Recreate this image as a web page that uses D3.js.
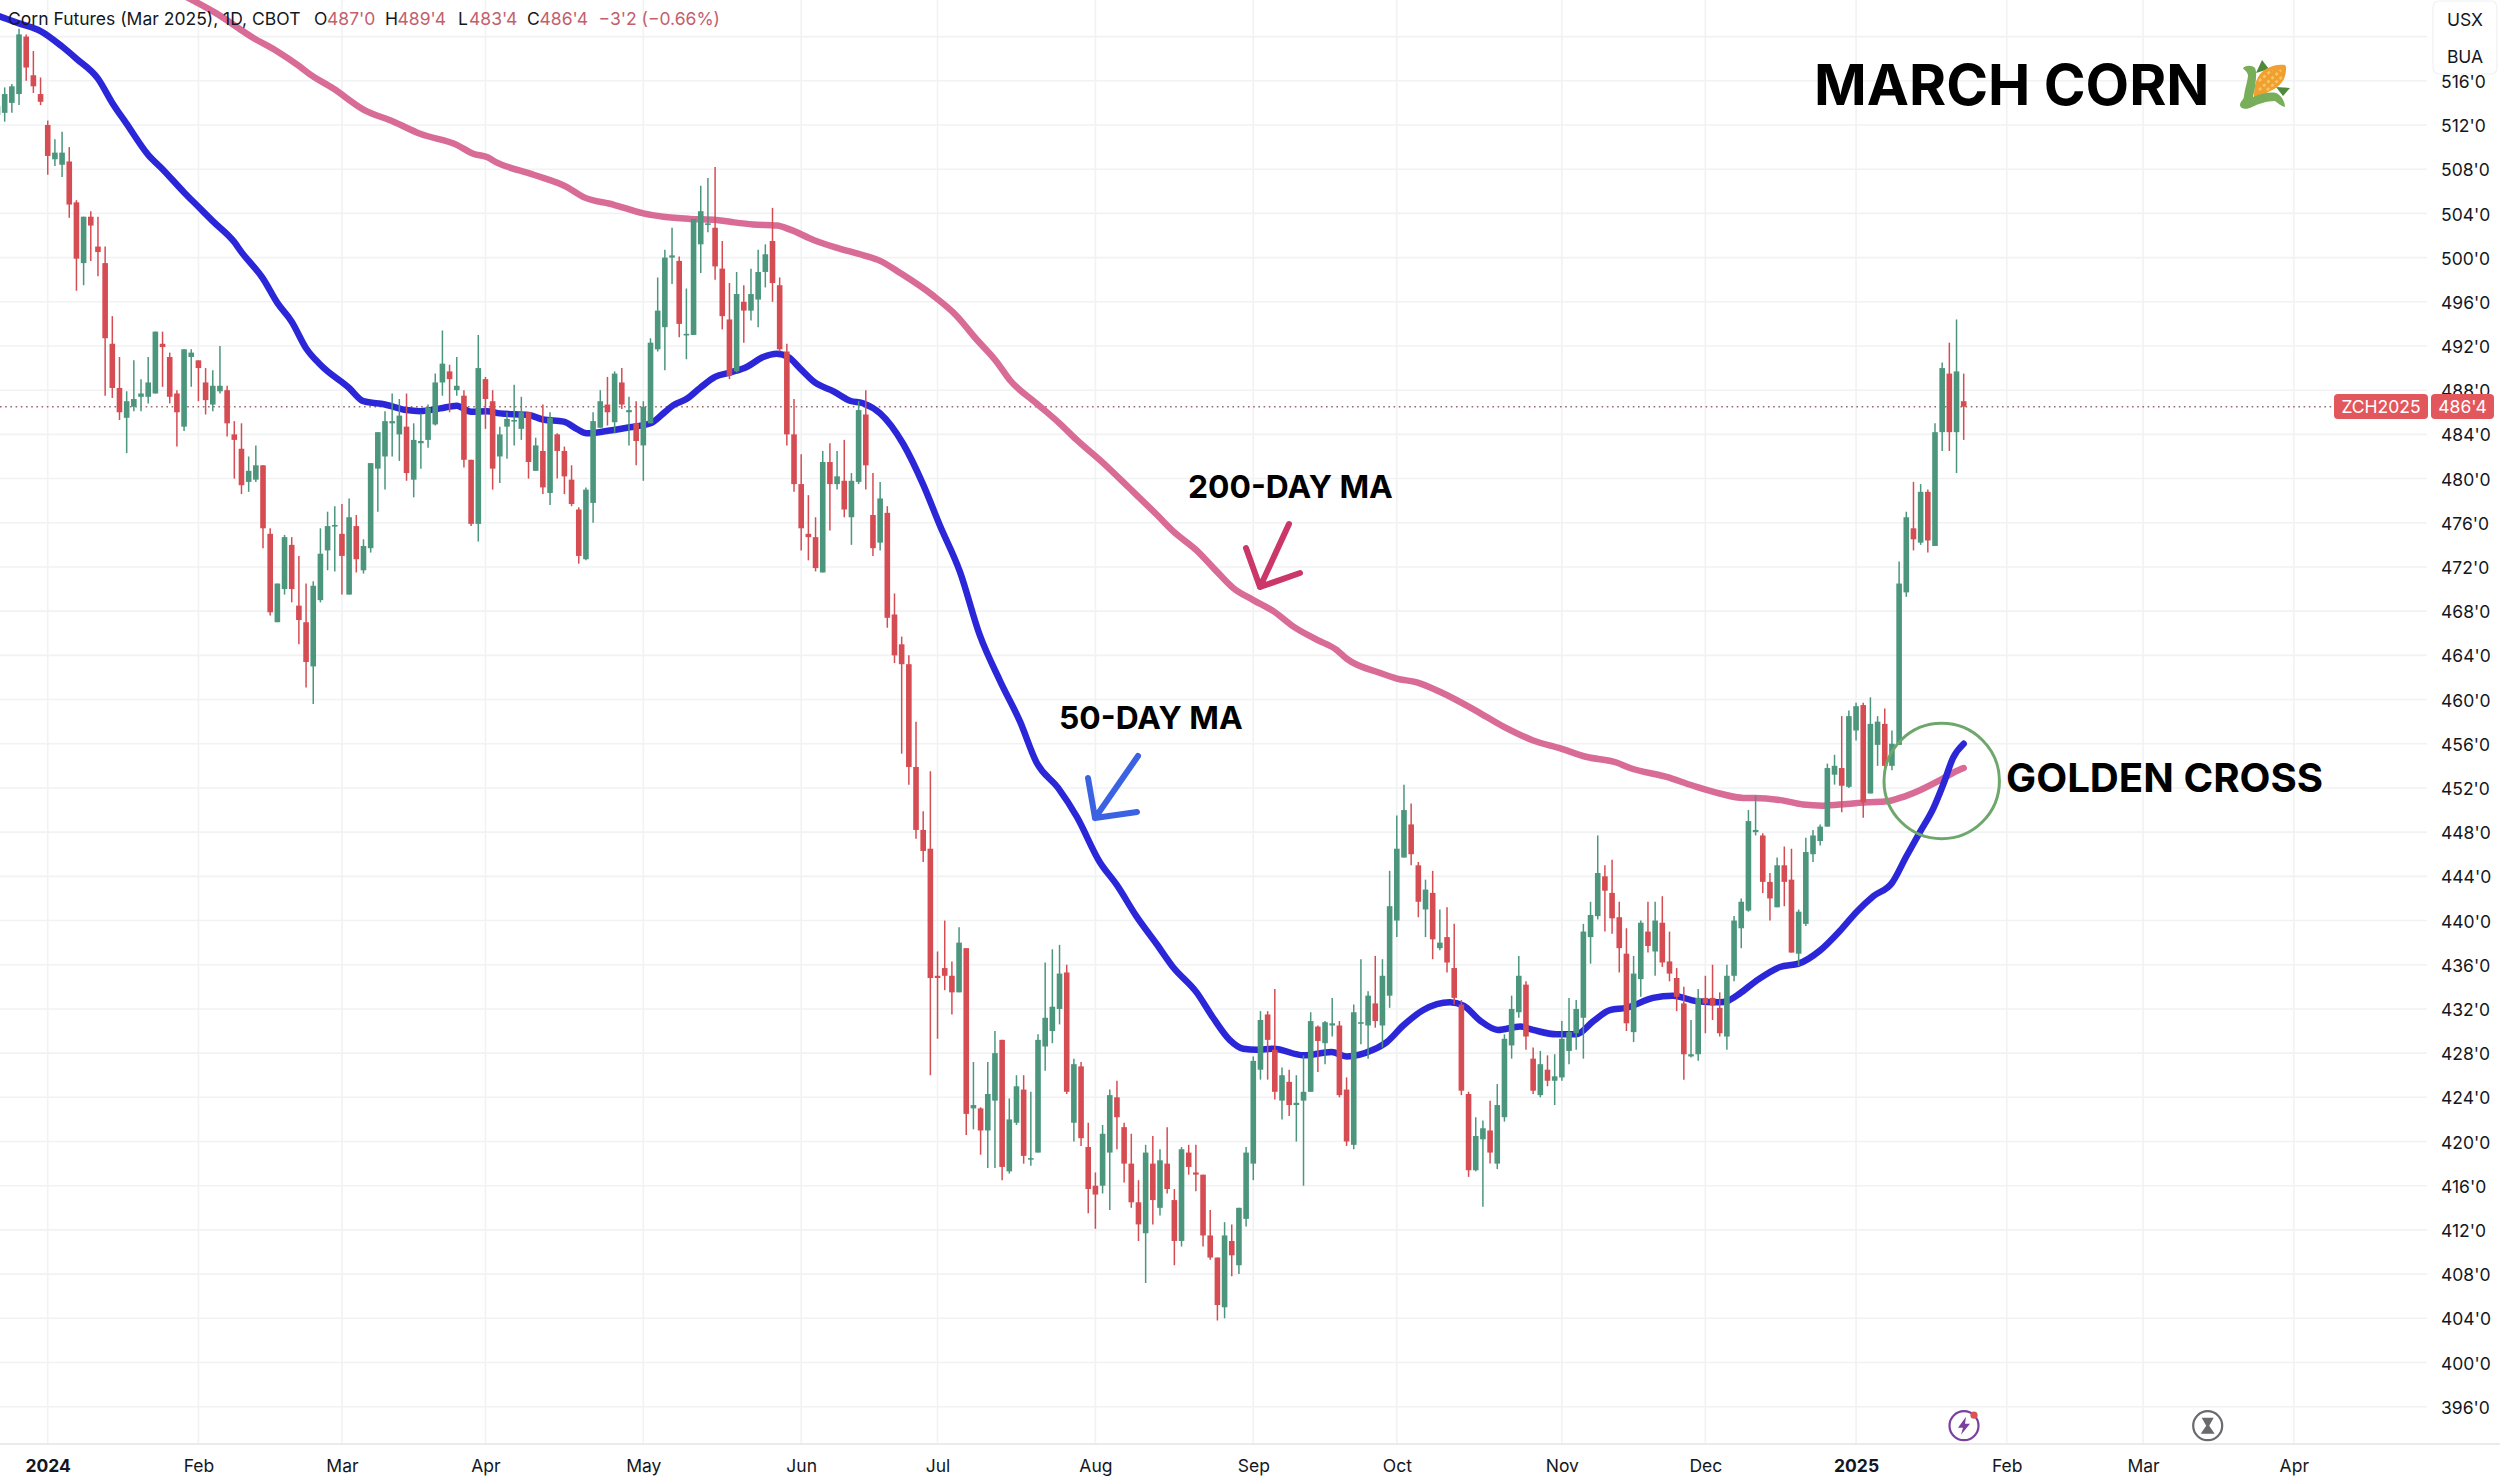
<!DOCTYPE html>
<html>
<head>
<meta charset="utf-8">
<script src="https://cdnjs.cloudflare.com/ajax/libs/d3/7.9.0/d3.min.js"></script>
<style>
  html, body { margin: 0; background: #fff; }
  text { font-family: Inter, "Noto Sans", sans-serif; }
  .tick line, .domain { display: none; }
  .tick text { font-size: 17.5px; fill: #131722; }
</style>
</head>
<body>
<svg id="gfx" width="2500" height="1480"></svg>
<script>
// Daily candles, prices in cents per bushel, one entry per session
const opens = [512.9,513.1,514.0,514.8,520.0,516.5,514.8,512.0,508.9,508.4,
  508.7,505.0,499.5,503.7,501.0,499.5,492.2,488.2,485.5,486.5,
  487.4,487.4,487.7,492.2,491.0,487.7,484.7,491.0,490.7,488.7,
  486.7,487.9,488.0,484.0,482.7,479.7,479.9,481.2,475.0,467.0,
  470.0,474.0,468.5,467.0,463.0,469.0,473.5,475.7,475.0,469.5,
  475.7,471.7,473.7,480.9,482.0,485.0,484.0,484.7,479.9,483.2,
  483.5,484.9,488.7,489.7,488.0,487.5,481.7,475.9,489.0,487.0,
  482.0,484.7,485.2,484.5,486.0,480.7,482.5,478.7,484.0,482.5,
  479.9,477.2,472.7,477.8,484.6,486.7,485.1,488.7,486.0,485.0,
  483.0,485.0,491.7,493.7,500.0,499.7,493.0,493.0,501.2,503.0,
  502.7,499.0,494.4,489.7,496.0,495.2,496.2,498.7,501.5,497.5,
  491.5,484.0,479.5,475.0,474.7,471.5,481.5,479.5,479.8,476.5,
  479.7,485.8,476.7,474.2,476.9,467.7,465.0,463.2,453.9,448.2,
  446.5,435.0,435.7,435.0,433.5,437.5,423.0,423.0,421.0,423.7,
  429.2,417.3,421.7,424.7,418.4,419.0,428.6,430.0,432.0,435.3,
  421.7,426.8,419.5,416.0,416.0,419.0,424.0,421.3,418.0,414.5,
  411.7,418.0,414.0,418.0,414.7,411.0,419.0,417.2,417.0,411.5,
  409.5,405.0,411.0,408.8,413.0,418.0,426.5,431.5,428.3,423.7,
  425.4,423.3,423.7,424.5,430.4,428.9,430.5,430.5,424.7,419.7,
  430.7,430.5,432.5,430.5,433.2,440.0,445.7,448.7,445.0,441.0,
  442.5,437.5,438.5,435.7,432.4,424.3,417.4,420.2,421.0,418.0,
  422.2,428.7,431.7,434.2,427.5,424.2,426.5,425.5,425.8,428.2,
  429.8,431.2,438.5,440.4,444.0,442.5,440.3,437.0,429.9,434.7,
  439.0,437.2,439.8,436.3,434.8,432.5,427.7,427.9,433.0,433.0,
  432.1,429.5,435.0,439.3,440.9,448.0,447.7,443.5,441.2,445.0,
  443.7,437.0,439.7,446.0,447.2,448.5,453.2,453.8,452.1,457.2,
  459.5,451.5,455.9,457.8,454.0,455.9,469.7,475.5,474.2,478.8,
  473.9,484.2,489.5,484.2,487.0];
const highs = [514.1,515.4,515.7,520.7,520.2,518.7,516.3,512.4,510.7,511.4,
  510.0,505.2,503.7,504.2,503.7,501.0,494.7,491.0,487.9,490.7,
  489.0,491.0,493.3,493.3,491.4,488.0,491.7,491.7,490.7,490.0,
  489.8,492.0,488.4,485.2,485.0,482.0,483.0,481.2,475.5,470.5,
  474.9,474.7,473.0,470.5,470.7,475.5,477.0,477.5,477.7,478.2,
  476.7,474.5,481.4,484.2,486.1,487.7,487.2,487.7,485.0,485.9,
  486.7,489.5,493.4,490.3,491.0,488.0,481.7,493.0,489.2,488.0,
  484.7,486.0,488.5,487.4,486.0,483.7,486.7,486.0,484.1,482.9,
  481.2,477.4,479.2,486.0,488.0,489.2,489.7,490.0,487.4,487.0,
  487.0,492.7,498.2,500.7,502.7,500.1,497.2,503.5,506.5,507.2,
  508.2,501.5,497.7,498.7,497.5,499.0,500.7,501.2,504.5,498.2,
  492.2,487.2,482.2,478.5,476.5,482.5,483.2,482.5,483.5,480.5,
  487.0,488.0,480.5,479.7,477.5,469.6,465.7,464.0,458.0,449.9,
  453.5,437.2,440.0,436.3,439.4,437.5,427.2,423.1,427.2,430.0,
  429.2,423.9,426.0,426.0,424.5,429.7,436.2,437.4,437.8,436.0,
  427.5,427.2,421.7,417.2,421.5,424.7,425.5,421.7,420.7,416.5,
  419.7,420.5,419.3,421.3,415.7,419.5,419.7,419.7,417.0,413.8,
  409.5,412.7,412.5,414.0,419.5,427.7,431.8,431.8,433.8,426.7,
  426.5,426.0,427.8,431.7,430.5,430.9,433.0,430.9,425.8,432.4,
  436.5,433.6,436.8,436.5,444.5,449.5,452.3,450.6,445.3,443.7,
  444.5,441.0,441.2,439.7,432.8,424.5,422.2,421.9,423.7,425.2,
  429.7,433.2,436.8,434.5,428.5,428.2,427.8,427.9,430.9,433.0,
  432.8,439.7,441.7,447.7,445.0,445.5,441.7,439.3,436.8,440.0,
  441.7,441.7,442.2,439.0,435.7,434.0,431.0,433.8,435.0,436.0,
  433.5,436.0,440.4,442.0,450.0,451.3,447.9,444.3,445.7,446.7,
  446.5,441.0,447.5,448.2,448.7,454.2,455.0,458.5,459.0,459.7,
  459.7,460.2,458.5,459.2,457.2,472.5,477.0,479.7,479.5,479.0,
  485.0,490.5,492.3,494.4,489.5];
const lows = [512.4,512.3,513.1,513.8,516.0,514.9,513.8,507.5,508.3,507.3,
  503.6,497.0,497.5,499.7,498.3,487.5,487.3,485.3,482.3,486.1,
  486.1,486.8,487.7,488.3,486.8,482.9,484.3,488.3,487.0,485.8,
  486.1,487.7,483.8,480.0,478.6,478.8,479.7,473.7,467.6,467.0,
  469.5,468.8,465.0,461.1,459.6,468.8,471.7,471.6,469.5,469.5,
  471.5,471.4,473.3,477.0,479.0,482.0,481.6,479.8,478.3,480.9,
  482.8,484.8,487.5,486.0,487.5,481.0,475.7,474.3,484.5,479.0,
  479.6,481.8,483.0,483.5,480.0,480.7,478.6,477.6,480.0,478.6,
  477.5,472.3,472.6,476.0,484.6,484.8,484.1,486.3,483.0,481.2,
  479.8,485.0,491.5,489.8,497.6,492.8,490.8,493.0,498.6,502.3,
  498.0,493.5,489.0,489.6,492.3,494.3,493.7,497.3,496.0,491.5,
  483.0,478.8,473.5,472.6,471.6,471.5,475.3,479.0,476.5,474.0,
  479.5,479.0,473.0,473.5,466.5,463.3,455.1,452.3,447.4,445.3,
  426.0,429.3,433.7,431.5,433.5,420.6,421.1,418.8,417.6,417.6,
  416.5,417.1,421.5,418.0,417.8,419.0,426.4,428.9,430.6,424.3,
  420.0,419.6,413.5,412.1,415.3,413.8,419.3,416.3,414.0,411.0,
  407.2,412.5,413.3,415.3,408.8,410.5,417.0,415.5,410.5,409.3,
  403.8,404.0,407.8,408.0,412.3,416.5,425.6,425.6,423.8,422.0,
  422.3,420.0,416.0,424.5,426.3,427.0,429.5,424.0,419.6,419.3,
  428.8,427.5,430.3,428.5,432.1,438.5,445.7,445.0,440.3,438.5,
  436.5,437.3,435.3,432.4,424.2,416.8,417.3,414.1,418.0,417.5,
  421.8,427.5,431.2,428.3,424.3,424.0,425.0,423.3,425.5,427.0,
  428.3,427.5,436.1,440.1,439.0,438.8,435.3,430.0,429.0,433.1,
  437.1,435.0,435.8,434.5,431.8,425.6,427.6,427.3,429.8,431.0,
  429.5,428.3,434.5,437.5,440.8,447.7,442.5,440.0,441.2,441.3,
  437.1,435.9,439.5,445.3,446.8,448.5,452.3,449.8,452.0,456.3,
  449.3,451.5,454.0,453.6,453.6,455.9,469.3,473.5,474.0,473.3,
  473.9,482.5,482.5,480.5,483.5];
const closes = [513.7,514.8,515.5,520.2,517.2,515.5,514.1,509.2,509.5,509.5,
  504.8,499.9,503.7,502.9,500.5,492.7,488.2,486.0,487.0,487.2,
  487.7,488.7,493.3,491.9,487.4,486.0,491.7,491.4,490.0,487.1,
  488.4,488.4,485.0,483.5,479.4,480.7,481.2,475.5,467.9,470.5,
  474.7,470.0,467.2,463.4,470.3,473.2,475.7,475.8,473.0,476.5,
  472.7,473.9,481.4,484.2,485.2,485.2,485.7,480.5,483.5,483.4,
  486.4,488.7,490.4,489.0,488.4,481.7,475.9,490.0,487.2,480.9,
  484.0,485.4,485.3,486.0,481.5,483.0,479.2,485.5,482.5,480.2,
  477.7,473.0,479.0,485.2,487.0,486.0,489.5,486.7,486.2,483.4,
  486.5,492.3,495.2,500.0,500.2,494.0,493.1,503.5,504.2,503.1,
  499.2,494.7,489.3,496.7,495.2,496.7,498.7,500.3,497.7,491.7,
  484.0,479.5,475.5,474.7,471.9,481.5,479.5,480.2,477.2,479.8,
  486.2,481.2,473.7,478.2,467.4,464.0,463.2,453.9,448.2,446.3,
  434.8,434.8,435.0,433.5,438.0,422.5,423.3,421.0,424.3,428.0,
  417.7,422.0,425.0,418.7,418.5,429.2,431.2,432.2,435.2,424.5,
  427.0,420.3,415.7,415.2,420.7,424.2,422.2,418.0,414.5,412.5,
  419.0,414.7,418.3,415.7,411.0,419.3,417.7,417.0,411.5,409.5,
  405.2,411.5,409.7,414.0,419.0,427.3,431.0,429.2,424.5,426.0,
  423.3,423.5,424.5,430.9,429.1,430.8,430.7,424.2,420.0,431.7,
  430.8,433.2,430.9,435.0,441.3,446.5,450.0,446.0,441.7,442.8,
  438.3,438.0,436.2,433.0,424.6,417.4,420.5,421.2,419.0,423.3,
  429.3,432.0,435.0,429.5,424.6,427.0,425.5,425.9,429.3,429.9,
  432.0,439.0,440.5,444.3,442.7,440.2,437.5,430.7,435.2,439.8,
  437.7,440.0,436.2,435.2,433.1,427.9,427.9,433.0,432.5,432.3,
  429.8,435.0,440.0,441.7,449.0,448.2,443.5,442.0,445.0,443.5,
  437.1,440.8,446.2,447.7,448.5,453.8,454.0,452.2,458.5,459.4,
  450.7,457.8,458.0,454.0,456.0,470.5,476.5,474.5,478.8,474.4,
  484.2,490.0,484.2,489.7,486.5];

// 50-day MA, session number and value
const ma50Sessions = [0,3,6,9,11,14,16,18,21,23,26,28,30,33,34,37,39,41,43,45,49,51,54,57,
  58.9,61.7,64,66,68.2,70,74,76,78.9,80.7,82.1,84.9,87.7,91,92.8,94.2,96,97.9,100,102.1,104.4,106.7,108.6,110.2,111.8,113.9,116.5,118.8,120.7,123,
  126.2,129,131.3,134.1,136.9,139.7,142.5,144.8,147.8,150.4,153.6,156,158.7,161.5,163.8,167.1,169.4,171.7,173.6,175.5,
  177.8,182,185.9,188,191.7,193.6,195.9,198.7,202.4,204.3,206.6,209.1,212.2,214,217.3,220,222.4,224.7,227,230.7,233.5,236.8,240,
  241,242.8,245,248.4,251,254,256.8,259.1,261.4,264,266,267.9,269.8,271.2,272.5,274];
const ma50Values = [521.9,521.2,520.5,519.1,518.0,516.2,514.0,512.1,509.3,508.0,505.9,504.6,503.3,501.4,500.5,498.1,495.9,494.2,491.8,490.3,488.2,487.0,486.7,486.2,
  486.1,486.35,486.6,486.05,486.1,485.9,485.75,485.35,485.15,484.5,484.1,484.3,484.6,485.0,485.9,486.65,487.2,488.2,489.2,489.6,490.1,491.0,491.3,491.0,490.0,488.7,487.9,487.05,486.8,485.9,
  483.15,479.45,475.8,471.6,465.8,461.7,458.0,454.3,452.0,449.4,445.3,443.2,440.4,437.9,435.8,433.5,431.2,429.2,428.4,428.3,
  428.4,427.8,428.1,427.7,428.3,429.0,430.5,431.9,432.6,432.3,430.95,430.1,430.4,430.1,429.7,429.7,430.9,431.9,432.1,433.0,433.2,432.7,432.6,
  432.7,433.4,434.5,435.8,436.1,437.3,439.1,440.8,442.2,443.4,445.8,448.0,450.2,452.4,454.7,456.0];

// 200-day MA, same reading
const ma200Sessions = [26,30.5,35.6,38.9,42.1,43.5,46.8,51,55.2,58.9,64,66.3,68.2,69.6,74.7,79.3,81.6,85.8,90,92.8,96.5,100.2,102.5,105.3,108.6,110.4,113.7,116.9,120.7,123,125.8,
  130.3,133.7,136.3,139.2,141.1,144.8,148,150.4,154.1,157.8,161.6,163.9,167.1,169.9,172.2,175,177.8,180.6,183.9,186.6,188,192.7,195,197.8,201,
  206,210,214,217.7,221.5,225.6,227.5,232.6,236.3,240,243.3,244.9,248.9,251.6,254.4,257.7,260.5,263.3,265.1,267.9,270.7,272.6,274];
const ma200Values = [523.7,522.1,519.9,518.7,517.3,516.6,515.3,513.4,512.3,511.2,510.2,509.4,509.1,508.6,507.5,506.4,505.5,504.8,504.0,503.7,503.5,503.4,503.2,503.0,502.9,502.55,501.6,500.9,500.2,499.7,498.6,
  496.6,494.7,492.7,490.6,488.9,486.8,485.0,483.5,481.4,479.1,476.7,475.2,473.5,471.6,470.1,469.0,468.0,466.6,465.4,464.5,463.7,462.4,461.9,461.55,460.7,
  459.0,457.5,456.3,455.6,454.8,454.3,453.8,453.0,452.2,451.5,451.1,451.1,450.85,450.5,450.4,450.55,450.7,450.8,451.1,451.8,452.7,453.4,453.8];

// Axes
const priceTicks = [396,400,404,408,412,416,420,424,428,432,436,440,444,448,452,456,460,464,468,472,476,480,484,488,492,496,500,504,508,512,516];
const gridPrices = priceTicks.concat([520]);
const monthLabels = ["2024","Feb","Mar","Apr","May","Jun","Jul","Aug","Sep","Oct","Nov","Dec","2025","Feb","Mar","Apr"];
const monthSessions = [7,28,48,68,90,112,131,153,175,195,218,238,259,280,299,320];
const yearLabels = ["2024","2025"];

const headerLabel = "Corn Futures (Mar 2025), 1D, CBOT";
const ohlcLetters = ["O","H","L","C"];
const ohlcValues = ["487'0","489'4","483'4","486'4"];
const changeLabel = "\u22123'2 (\u22120.66%)";
const lastPrice = 486.5;
const symbolLabel = "ZCH2025";
const lastLabel = "486'4";

const green = "#4c967e", red = "#d64c53", paneRight = 2427, paneBottom = 1444;

const svg = d3.select("#gfx");
svg.append("rect").attr("width", 2500).attr("height", 1480).attr("fill", "#fff");

svg.append("defs").append("clipPath").attr("id", "pane")
  .append("rect").attr("width", paneRight).attr("height", paneBottom);

const x = d3.scaleLinear().domain([0, 274]).range([-2.5, 1963.7]);
const y = d3.scaleLinear().domain([396, 512]).range([1406.7, 125]);

// Grid
const grid = svg.append("g").attr("clip-path", "url(#pane)");
grid.selectAll("line.h").data(gridPrices).enter().append("line").attr("class", "h")
  .attr("x1", 0).attr("x2", paneRight)
  .attr("y1", d => y(d)).attr("y2", d => y(d))
  .attr("stroke", "#f1f2f4").attr("stroke-width", 1.6);
grid.selectAll("line.v").data(monthSessions).enter().append("line").attr("class", "v")
  .attr("x1", d => x(d)).attr("x2", d => x(d))
  .attr("y1", 0).attr("y2", paneBottom)
  .attr("stroke", "#f1f2f4").attr("stroke-width", 1.6);

svg.append("line")
  .attr("x1", 0).attr("x2", 2500).attr("y1", paneBottom).attr("y2", paneBottom)
  .attr("stroke", "#e4e5e8").attr("stroke-width", 1.6);

// Last price line
svg.append("line")
  .attr("x1", 0).attr("x2", paneRight).attr("y1", y(lastPrice)).attr("y2", y(lastPrice))
  .attr("stroke", "#9c6a6e").attr("stroke-width", 1.3).attr("stroke-dasharray", "1.6 3.6");

// Moving averages
const pane = svg.append("g").attr("clip-path", "url(#pane)");
const line = d3.line().x(d => x(d[0])).y(d => y(d[1])).curve(d3.curveMonotoneX);
pane.append("path").datum(d3.zip(ma200Sessions, ma200Values))
  .attr("d", line).attr("fill", "none").attr("stroke", "#d96c96")
  .attr("stroke-width", 6.5).attr("stroke-linecap", "round");
pane.append("path").datum(d3.zip(ma50Sessions, ma50Values))
  .attr("d", line).attr("fill", "none").attr("stroke", "#2b27d8")
  .attr("stroke-width", 6.5).attr("stroke-linecap", "round");

// Candles
const candles = pane.selectAll("g.candle").data(opens.map((o, i) => i)).enter()
  .append("g").attr("class", "candle");
const colour = i => closes[i] >= opens[i] ? green : red;
candles.append("line")
  .attr("x1", i => x(i)).attr("x2", i => x(i))
  .attr("y1", i => y(highs[i])).attr("y2", i => y(lows[i]))
  .attr("stroke", colour).attr("stroke-width", 1.5);
candles.append("rect")
  .attr("x", i => x(i) - 2.8).attr("width", 5.6)
  .attr("y", i => y(Math.max(opens[i], closes[i])))
  .attr("height", i => Math.max(1.6, Math.abs(y(opens[i]) - y(closes[i]))))
  .attr("fill", colour);

// Price axis
const yAxis = d3.axisRight(y).tickValues(priceTicks).tickSize(0).tickPadding(0)
  .tickFormat(d => d + "'0");
svg.append("g").attr("transform", "translate(2441,1)").call(yAxis);

// Time axis
const xAxis = d3.axisBottom(x).tickValues(monthSessions).tickSize(0).tickPadding(0)
  .tickFormat((d, i) => monthLabels[i]);
svg.append("g").attr("transform", "translate(0," + (paneBottom + 15.5) + ")").call(xAxis)
  .selectAll("text")
  .attr("font-weight", (d, i) => yearLabels.includes(monthLabels[i]) ? 700 : 400);
svg.selectAll(".tick text").attr("font-family", "Inter");

// Unit box
svg.append("rect").attr("x", 2433).attr("y", 1).attr("width", 64).attr("height", 73).attr("rx", 6)
  .attr("fill", "#fff").attr("stroke", "#f0f1f3").attr("stroke-width", 1.2);
svg.selectAll("text.unit").data(["USX", "BUA"]).enter().append("text").attr("class", "unit")
  .attr("x", 2465).attr("y", (d, i) => 25.5 + i * 37)
  .attr("text-anchor", "middle").attr("font-size", 17.5).attr("fill", "#131722").text(d => d);

// Last price tag
svg.append("rect").attr("x", 2334).attr("y", 394).attr("width", 94).attr("height", 25).attr("rx", 4).attr("fill", "#e2575c");
svg.append("rect").attr("x", 2431).attr("y", 394).attr("width", 63).attr("height", 25).attr("rx", 4).attr("fill", "#e2575c");
svg.append("text").attr("x", 2381).attr("y", 413).attr("text-anchor", "middle")
  .attr("font-size", 17.5).attr("fill", "#fff").text(symbolLabel);
svg.append("text").attr("x", 2462.5).attr("y", 413).attr("text-anchor", "middle")
  .attr("font-size", 17.5).attr("fill", "#fff").text(lastLabel);

// Header
const headerRed = "#c3606c", headerDark = "#131722";
const header = svg.append("g").attr("font-size", 17.5);
header.append("text").attr("x", 8).attr("y", 25).attr("fill", headerDark).text(headerLabel);
const letterX = [314, 385, 458, 527], valueX = [327, 397.5, 469, 539.5];
ohlcLetters.forEach((l, i) => {
  header.append("text").attr("x", letterX[i]).attr("y", 25).attr("fill", headerDark).text(l);
  header.append("text").attr("x", valueX[i]).attr("y", 25).attr("fill", headerRed).text(ohlcValues[i]);
});
header.append("text").attr("x", 598.5).attr("y", 25).attr("fill", headerRed).text(changeLabel);

// Annotations
const note = (t, px, py, size) => svg.append("text").attr("x", px).attr("y", py)
  .attr("font-size", size).attr("font-weight", 700).attr("fill", "#000").text(t);
note("MARCH CORN", 1814, 105, 56.6);
note("200-DAY MA", 1188, 498, 31.8);
note("50-DAY MA", 1059, 729, 31.8);
note("GOLDEN CROSS", 2006, 792, 40.2);

const arrow = (colourName, tail, tip, barbA, barbB) => {
  const p = "M" + tail + "L" + tip + "M" + barbA + "L" + tip + "L" + barbB;
  svg.append("path").attr("d", p).attr("fill", "none").attr("stroke", colourName)
    .attr("stroke-width", 6).attr("stroke-linecap", "round").attr("stroke-linejoin", "round");
};
arrow("#cb3768", [1289, 524], [1260, 587], [1246, 548], [1300, 573]);
arrow("#3a62e2", [1138, 756], [1095, 818], [1088, 778], [1137, 812]);

svg.append("circle").attr("cx", 1941.7).attr("cy", 781).attr("r", 57.7)
  .attr("fill", "none").attr("stroke", "#6ea76b").attr("stroke-width", 3);

// Corn icon
const corn = svg.append("g").attr("transform", "translate(2240,60)");
corn.append("path").attr("d", "M16 13L22 0L29 9Z").attr("fill", "#4f8a3c");
corn.append("path").attr("d", "M36 27L50 28L43 36Z").attr("fill", "#4f8a3c");
corn.append("path").attr("d", "M14 38C14 25 16 15 26 9C32 5 40 4 45 5C47 7 46 14 44 19C40 27 32 31 14 38Z").attr("fill", "#f0a030");
corn.append("path").attr("d", "M19 30L41 10M19 21L32 10M27 30L43 16").attr("fill", "none")
  .attr("stroke", "#f8c65e").attr("stroke-width", 2.6).attr("stroke-dasharray", "3 2.6");
corn.append("path").attr("d", "M3 8C6 5 12 5 15 8C17 12 16 20 15 27L13 37C22 33 33 31 38 34C42 37 45 42 45 47C41 46 38 43 35 41C27 41 18 44 12 47C7 50 0 49 0 45C0 41 4 40 4 36C5 28 8 20 8 15C7 11 4 10 3 8Z").attr("fill", "#78ad5a");

// Bottom icons
const bolt = svg.append("g").attr("transform", "translate(1964,1425.7)");
bolt.append("circle").attr("r", 14.5).attr("fill", "#fff").attr("stroke", "#7b3fa0").attr("stroke-width", 2.2);
bolt.append("path").attr("d", "M2 -9L-6 2L-1 2L-3 9L6 -2L1 -2Z").attr("fill", "#7b3fa0");
bolt.append("circle").attr("cx", 10).attr("cy", -10.5).attr("r", 3.6).attr("fill", "#d9534f");
const glass = svg.append("g").attr("transform", "translate(2207.7,1425.7)");
glass.append("circle").attr("r", 14.5).attr("fill", "#fff").attr("stroke", "#6a6a6e").attr("stroke-width", 2.2);
glass.append("path").attr("d", "M-6 -8L6 -8L1.5 0L7 8L-7 8L-1.5 0Z").attr("fill", "#6a6a6e");
</script>
</body>
</html>
